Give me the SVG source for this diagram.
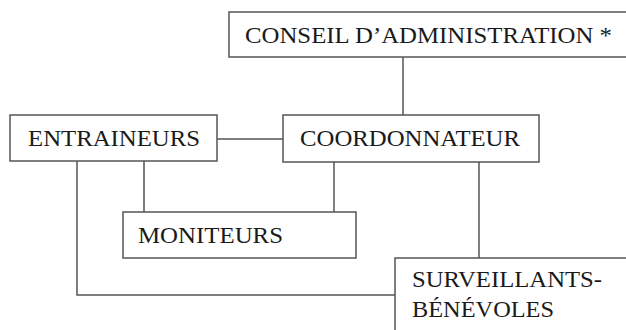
<svg xmlns="http://www.w3.org/2000/svg" width="626" height="330" viewBox="0 0 626 330">
<style>
.box{fill:#fff;stroke:#555;stroke-width:1.5}
.ln{fill:none;stroke:#555;stroke-width:1.5}
text{font-family:"Liberation Serif","Times New Roman",serif;font-size:23px;fill:#1a1a1a}
</style>
<rect width="626" height="330" fill="#fff"/>
<g id="connectors">
<line class="ln" x1="403" y1="57" x2="403" y2="115"/>
<line class="ln" x1="217" y1="139" x2="283" y2="139"/>
<line class="ln" x1="144" y1="161" x2="144" y2="212"/>
<line class="ln" x1="334" y1="162" x2="334" y2="212"/>
<line class="ln" x1="479" y1="162" x2="479" y2="258"/>
<polyline class="ln" points="77,161 77,295 395,295"/>
</g>
<g id="conseil">
<rect class="box" x="229" y="12" width="400" height="45"/>
<text x="245" y="43" textLength="367" lengthAdjust="spacingAndGlyphs">CONSEIL D’ADMINISTRATION *</text>
</g>
<g id="entraineurs">
<rect class="box" x="10" y="115" width="207" height="46"/>
<text x="28" y="146" textLength="172" lengthAdjust="spacingAndGlyphs">ENTRAINEURS</text>
</g>
<g id="coordonnateur">
<rect class="box" x="283" y="115" width="256" height="47"/>
<text x="300" y="146" textLength="220" lengthAdjust="spacingAndGlyphs">COORDONNATEUR</text>
</g>
<g id="moniteurs">
<rect class="box" x="123" y="212" width="233" height="46"/>
<text x="138" y="243" textLength="145" lengthAdjust="spacingAndGlyphs">MONITEURS</text>
</g>
<g id="surveillants">
<rect class="box" x="395" y="258" width="240" height="80"/>
<text x="412" y="287" textLength="190" lengthAdjust="spacingAndGlyphs">SURVEILLANTS-</text>
<text x="412" y="317" textLength="142" lengthAdjust="spacingAndGlyphs">BÉNÉVOLES</text>
</g>
</svg>
